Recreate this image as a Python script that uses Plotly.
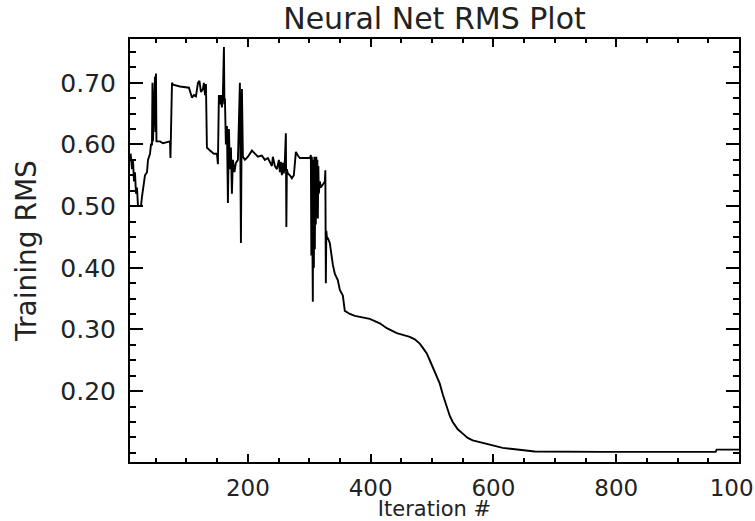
import plotly.graph_objects as go

# Iteration number and training RMS
iteration = [
    9, 11.3, 12.9, 14.5, 16.1, 17.8, 19.4, 21.0, 23.5, 25.9, 27.5, 30.8, 32.4, 35.7, 37.3,
    40.6, 42.2, 43.8, 44.6, 45.4, 48.7, 49.5, 50.3, 51.1, 56.8, 61.7, 73.1, 73.9, 74.7,
    76.4, 78.0, 89.4, 104, 105.7, 108.9, 112.2, 115.4, 118.7, 121.1, 123.6, 126.8, 128.4,
    130.1, 131.7, 133.3, 138.2, 144.7, 149.6, 151.2, 152.8, 154.5, 156.1, 157.7, 159.3,
    161.0, 161.8, 162.6, 164.2, 165.9, 167.5, 169.1, 170.8, 172.4, 174.0, 175.6, 178.1,
    180.5, 183.8, 187.0, 188.7, 190.3, 191.9, 195.2, 200.1, 206.6, 211.5, 216.3, 222.8,
    227.7, 232.6, 235.9, 239.1, 240.7, 244.0, 247.3, 250.5, 252.1, 253.8, 255.4, 257.0,
    258.6, 260.3, 261.9, 262.7, 263.5, 265.1, 268.4, 271.7, 274.9, 278.2, 281.4, 284.7,
    292.8, 301.0, 302.6, 303.4, 304.2, 305.0, 305.8, 306.6, 307.5, 308.3, 309.1, 309.9,
    310.7, 311.5, 312.4, 313.2, 314.0, 314.8, 315.6, 317.2, 318.9, 322.1, 325.4, 326.2,
    327.0, 327.8, 328.6, 330.3, 333.5, 336.8, 338.4, 341.7, 346.5, 349.8, 354.7, 357.9,
    366.1, 374.2, 382.4, 398.6, 414.9, 426.3, 442.6, 463.7, 471.9, 480.0, 486.5, 491.4,
    496.3, 501.2, 507.7, 512.6, 517.4, 524.0, 528.8, 533.7, 541.9, 550.0, 558.1, 566.3,
    577.7, 589.1, 602.1, 615.1, 631.4, 654.2, 667.2, 773, 962, 963.5, 1000,
]
training_rms = [
    0.585, 0.56, 0.575, 0.54, 0.555, 0.52, 0.53, 0.50, 0.50, 0.50, 0.515, 0.535, 0.55, 0.555, 0.575,
    0.585, 0.60, 0.60, 0.70, 0.605, 0.71, 0.62, 0.715, 0.605, 0.605, 0.602, 0.605, 0.578, 0.64,
    0.70, 0.697, 0.694, 0.692, 0.685, 0.676, 0.68, 0.678, 0.70, 0.703, 0.685, 0.69, 0.70,
    0.68, 0.698, 0.595, 0.59, 0.585, 0.585, 0.568, 0.68, 0.665, 0.68, 0.66, 0.68,
    0.758, 0.665, 0.675, 0.60, 0.63, 0.505, 0.625, 0.56, 0.595, 0.52, 0.575, 0.555,
    0.57, 0.575, 0.70, 0.44, 0.69, 0.58, 0.575, 0.58, 0.59, 0.585, 0.58, 0.582,
    0.575, 0.578, 0.57, 0.565, 0.58, 0.565, 0.56, 0.575, 0.555, 0.572, 0.55, 0.57,
    0.553, 0.575, 0.618, 0.466, 0.56, 0.553, 0.55, 0.545, 0.55, 0.588, 0.582, 0.578,
    0.578, 0.578, 0.583, 0.42, 0.58, 0.45, 0.345, 0.575, 0.40, 0.58, 0.43, 0.57,
    0.47, 0.58, 0.50, 0.575, 0.48, 0.565, 0.52, 0.54, 0.53, 0.535, 0.54, 0.558,
    0.375, 0.46, 0.45, 0.448, 0.44, 0.41, 0.405, 0.39, 0.38, 0.364, 0.355, 0.33,
    0.325, 0.322, 0.32, 0.317, 0.31, 0.302, 0.294, 0.288, 0.284, 0.277, 0.268, 0.261,
    0.25, 0.239, 0.225, 0.212, 0.195, 0.174, 0.16, 0.15, 0.138, 0.131, 0.124, 0.12,
    0.117, 0.114, 0.111, 0.108, 0.106, 0.103, 0.102, 0.1015, 0.1015, 0.105, 0.105,
]

x_ticks = [200, 400, 600, 800, 1000]
x_tick_labels = ["200", "400", "600", "800", "1000"]
y_ticks = [0.2, 0.3, 0.4, 0.5, 0.6, 0.7]
y_tick_labels = ["0.20", "0.30", "0.40", "0.50", "0.60", "0.70"]

FONT = "DejaVu Sans"
INK = "#222222"

fig = go.Figure()
fig.add_trace(go.Scatter(
    x=iteration, y=training_rms, mode="lines",
    line=dict(color="black", width=1.9), showlegend=False,
))

fig.update_layout(
    width=755, height=521,
    margin=dict(l=130, r=16, t=39, b=59, autoexpand=False),
    paper_bgcolor="white", plot_bgcolor="white",
    font=dict(family=FONT, color=INK),
    title=dict(
        text="Neural Net RMS Plot", x=0.5755, xanchor="center",
        y=1 - 18 / 521, yanchor="middle", yref="container",
        font=dict(size=30, family=FONT, color=INK),
    ),
)
fig.update_xaxes(
    range=[8, 1000], tickmode="array", tickvals=x_ticks, ticktext=x_tick_labels,
    ticks="inside", ticklen=8, tickwidth=1.5, tickcolor="black",
    showline=True, linecolor="black", linewidth=2, mirror="ticks",
    showgrid=False, zeroline=False, ticklabeloverflow="allow",
    tickfont=dict(size=23, family=FONT, color=INK),
    ticklabelstandoff=4,
    minor=dict(tickmode="linear", tick0=0, dtick=50, ticks="inside", ticklen=4,
               tickwidth=1.5, tickcolor="black", showgrid=False),
    title=dict(text="Iteration #", standoff=0,
               font=dict(size=21, family=FONT, color=INK)),
)
fig.update_yaxes(
    range=[0.085, 0.771], tickmode="array", tickvals=y_ticks, ticktext=y_tick_labels,
    ticks="inside", ticklen=13, tickwidth=1.5, tickcolor="black",
    showline=True, linecolor="black", linewidth=2, mirror="ticks",
    showgrid=False, zeroline=False,
    tickfont=dict(size=25, family=FONT, color=INK),
    ticklabelstandoff=7,
    minor=dict(tickmode="linear", tick0=0.1, dtick=0.025, ticks="inside", ticklen=6,
               tickwidth=1.5, tickcolor="black", showgrid=False),
    title=dict(text="Training RMS", standoff=16,
               font=dict(size=28, family=FONT, color=INK)),
)

fig.write_html("out.html")
